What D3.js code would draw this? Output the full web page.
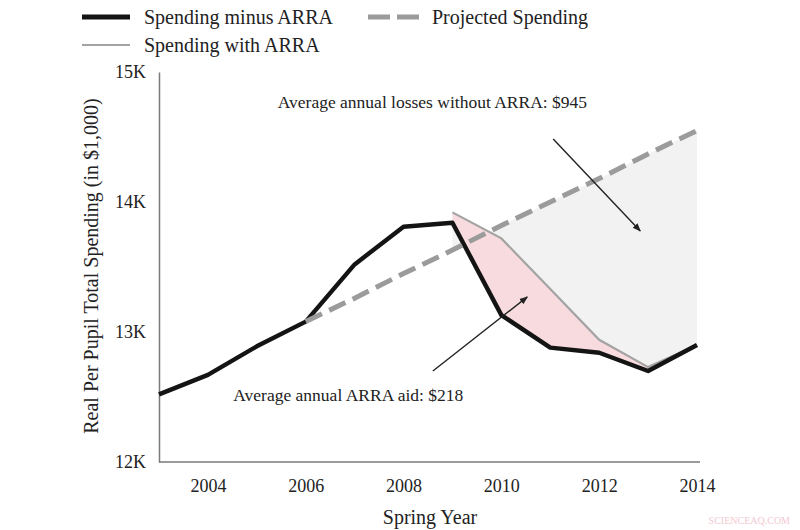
<!DOCTYPE html>
<html>
<head>
<meta charset="utf-8">
<script src="https://cdnjs.cloudflare.com/ajax/libs/d3/7.8.5/d3.min.js"></script>
<style>
  body { margin: 0; background: #fff; }
  text { font-family: "Liberation Serif", "DejaVu Serif", serif; fill: #222; }
</style>
</head>
<body>
<svg id="chart" width="800" height="530"></svg>
<script>
// data (values in $1,000)
var years = [2003, 2004, 2005, 2006, 2007, 2008, 2009, 2010, 2011, 2012, 2013, 2014]
var minusArra = [12.52, 12.67, 12.89, 13.08, 13.52, 13.81, 13.84, 13.13, 12.88, 12.84, 12.70, 12.90]
var arraYears = [2009, 2010, 2011, 2012, 2013, 2014]
var withArra = [13.92, 13.72, 13.33, 12.94, 12.73, 12.90]
var projYears = [2006, 2007, 2008, 2009, 2010, 2011, 2012, 2013, 2014]
var projected = [13.08, 13.26, 13.45, 13.63, 13.82, 14.00, 14.18, 14.37, 14.55]
var yTicks = [12, 13, 14, 15]
var xTicks = [2004, 2006, 2008, 2010, 2012, 2014]

var svg = d3.select("#chart")

var x = d3.scaleLinear().domain([2003, 2014]).range([159, 697])
var y = d3.scaleLinear().domain([12, 15]).range([462, 72])

var valueAt = function(ys, vs, yr) { return vs[ys.indexOf(yr)] }

// shaded areas
var lossArea = d3.area()
    .x(d => x(d))
    .y0(d => y(valueAt(arraYears, withArra, d)))
    .y1(d => y(valueAt(projYears, projected, d)))
svg.append("path").datum(arraYears).attr("d", lossArea).attr("fill", "#f2f2f2")

var aidArea = d3.area()
    .x(d => x(d))
    .y0(d => y(valueAt(years, minusArra, d)))
    .y1(d => y(valueAt(arraYears, withArra, d)))
svg.append("path").datum(arraYears).attr("d", aidArea).attr("fill", "#f8dbdf")

// axes
var axisY = d3.axisLeft(y).tickValues(yTicks).tickSize(0).tickPadding(13).tickFormat(d => d + "K")
var axisX = d3.axisBottom(x).tickValues(xTicks).tickSize(0).tickPadding(17).tickFormat(d3.format("d"))

var gy = svg.append("g").attr("transform", "translate(159,0)").call(axisY)
var gx = svg.append("g").attr("transform", "translate(0,462)").call(axisX)
svg.selectAll(".domain").attr("stroke", "#7a7a7a").attr("stroke-width", 1.5)
svg.selectAll(".tick text").attr("font-size", 18).attr("font-family", "Liberation Serif").attr("fill", "#222")
gx.select(".domain").attr("d", "M159,0H700")

// lines
var line = function(ys) { return d3.line().x((d, i) => x(ys[i])).y(d => y(d)) }

svg.append("path").datum(withArra).attr("d", line(arraYears))
    .attr("fill", "none").attr("stroke", "#a3a3a3").attr("stroke-width", 2.2)

svg.append("path").datum(minusArra).attr("d", line(years))
    .attr("fill", "none").attr("stroke", "#141414").attr("stroke-width", 4.4).attr("stroke-linejoin", "round")

svg.append("path").datum(projected).attr("d", line(projYears))
    .attr("fill", "none").attr("stroke", "#9b9b9b").attr("stroke-width", 5)
    .attr("stroke-dasharray", "18,8")

// arrows
svg.append("defs").append("marker")
    .attr("id", "head").attr("viewBox", "0 0 10 10").attr("refX", 9).attr("refY", 5)
    .attr("markerWidth", 6).attr("markerHeight", 6).attr("orient", "auto")
    .append("path").attr("d", "M0,1L10,5L0,9Z").attr("fill", "#222")

var arrows = [
  {from: [2011.06, 14.485], to: [2012.84, 13.777]},
  {from: [2008.60, 12.70], to: [2010.53, 13.27]}
]
svg.selectAll(".arrow").data(arrows).enter().append("line")
    .attr("x1", d => x(d.from[0])).attr("y1", d => y(d.from[1]))
    .attr("x2", d => x(d.to[0])).attr("y2", d => y(d.to[1]))
    .attr("stroke", "#222").attr("stroke-width", 1.4).attr("marker-end", "url(#head)")

// annotation text
svg.append("text").attr("x", x(2008.59)).attr("y", y(14.725)).attr("text-anchor", "middle")
    .attr("font-size", 17.5).text("Average annual losses without ARRA: $945")
svg.append("text").attr("x", x(2006.87)).attr("y", y(12.47)).attr("text-anchor", "middle")
    .attr("font-size", 17.5).text("Average annual ARRA aid: $218")

// axis titles
svg.append("text").attr("transform", "translate(98,266) rotate(-90)").attr("text-anchor", "middle")
    .attr("font-size", 20).text("Real Per Pupil Total Spending (in $1,000)")
svg.append("text").attr("x", 430).attr("y", 524).attr("text-anchor", "middle")
    .attr("font-size", 20).text("Spring Year")

// legend
var legend = svg.append("g")
legend.append("line").attr("x1", 82).attr("x2", 130).attr("y1", 17).attr("y2", 17)
    .attr("stroke", "#141414").attr("stroke-width", 5)
legend.append("text").attr("x", 144).attr("y", 24).attr("font-size", 20).text("Spending minus ARRA")
legend.append("line").attr("x1", 368).attr("x2", 419).attr("y1", 17).attr("y2", 17)
    .attr("stroke", "#9b9b9b").attr("stroke-width", 5).attr("stroke-dasharray", "22,7")
legend.append("text").attr("x", 432).attr("y", 24).attr("font-size", 20).text("Projected Spending")
legend.append("line").attr("x1", 82).attr("x2", 130).attr("y1", 45).attr("y2", 45)
    .attr("stroke", "#a3a3a3").attr("stroke-width", 2.2)
legend.append("text").attr("x", 144).attr("y", 52).attr("font-size", 20).text("Spending with ARRA")

// watermark
svg.append("text").attr("x", 790).attr("y", 524).attr("text-anchor", "end")
    .attr("font-family", "Liberation Sans").attr("font-size", 10)
    .style("fill", "#f3c9d2").text("SCIENCEAQ.COM")
</script>
</body>
</html>
